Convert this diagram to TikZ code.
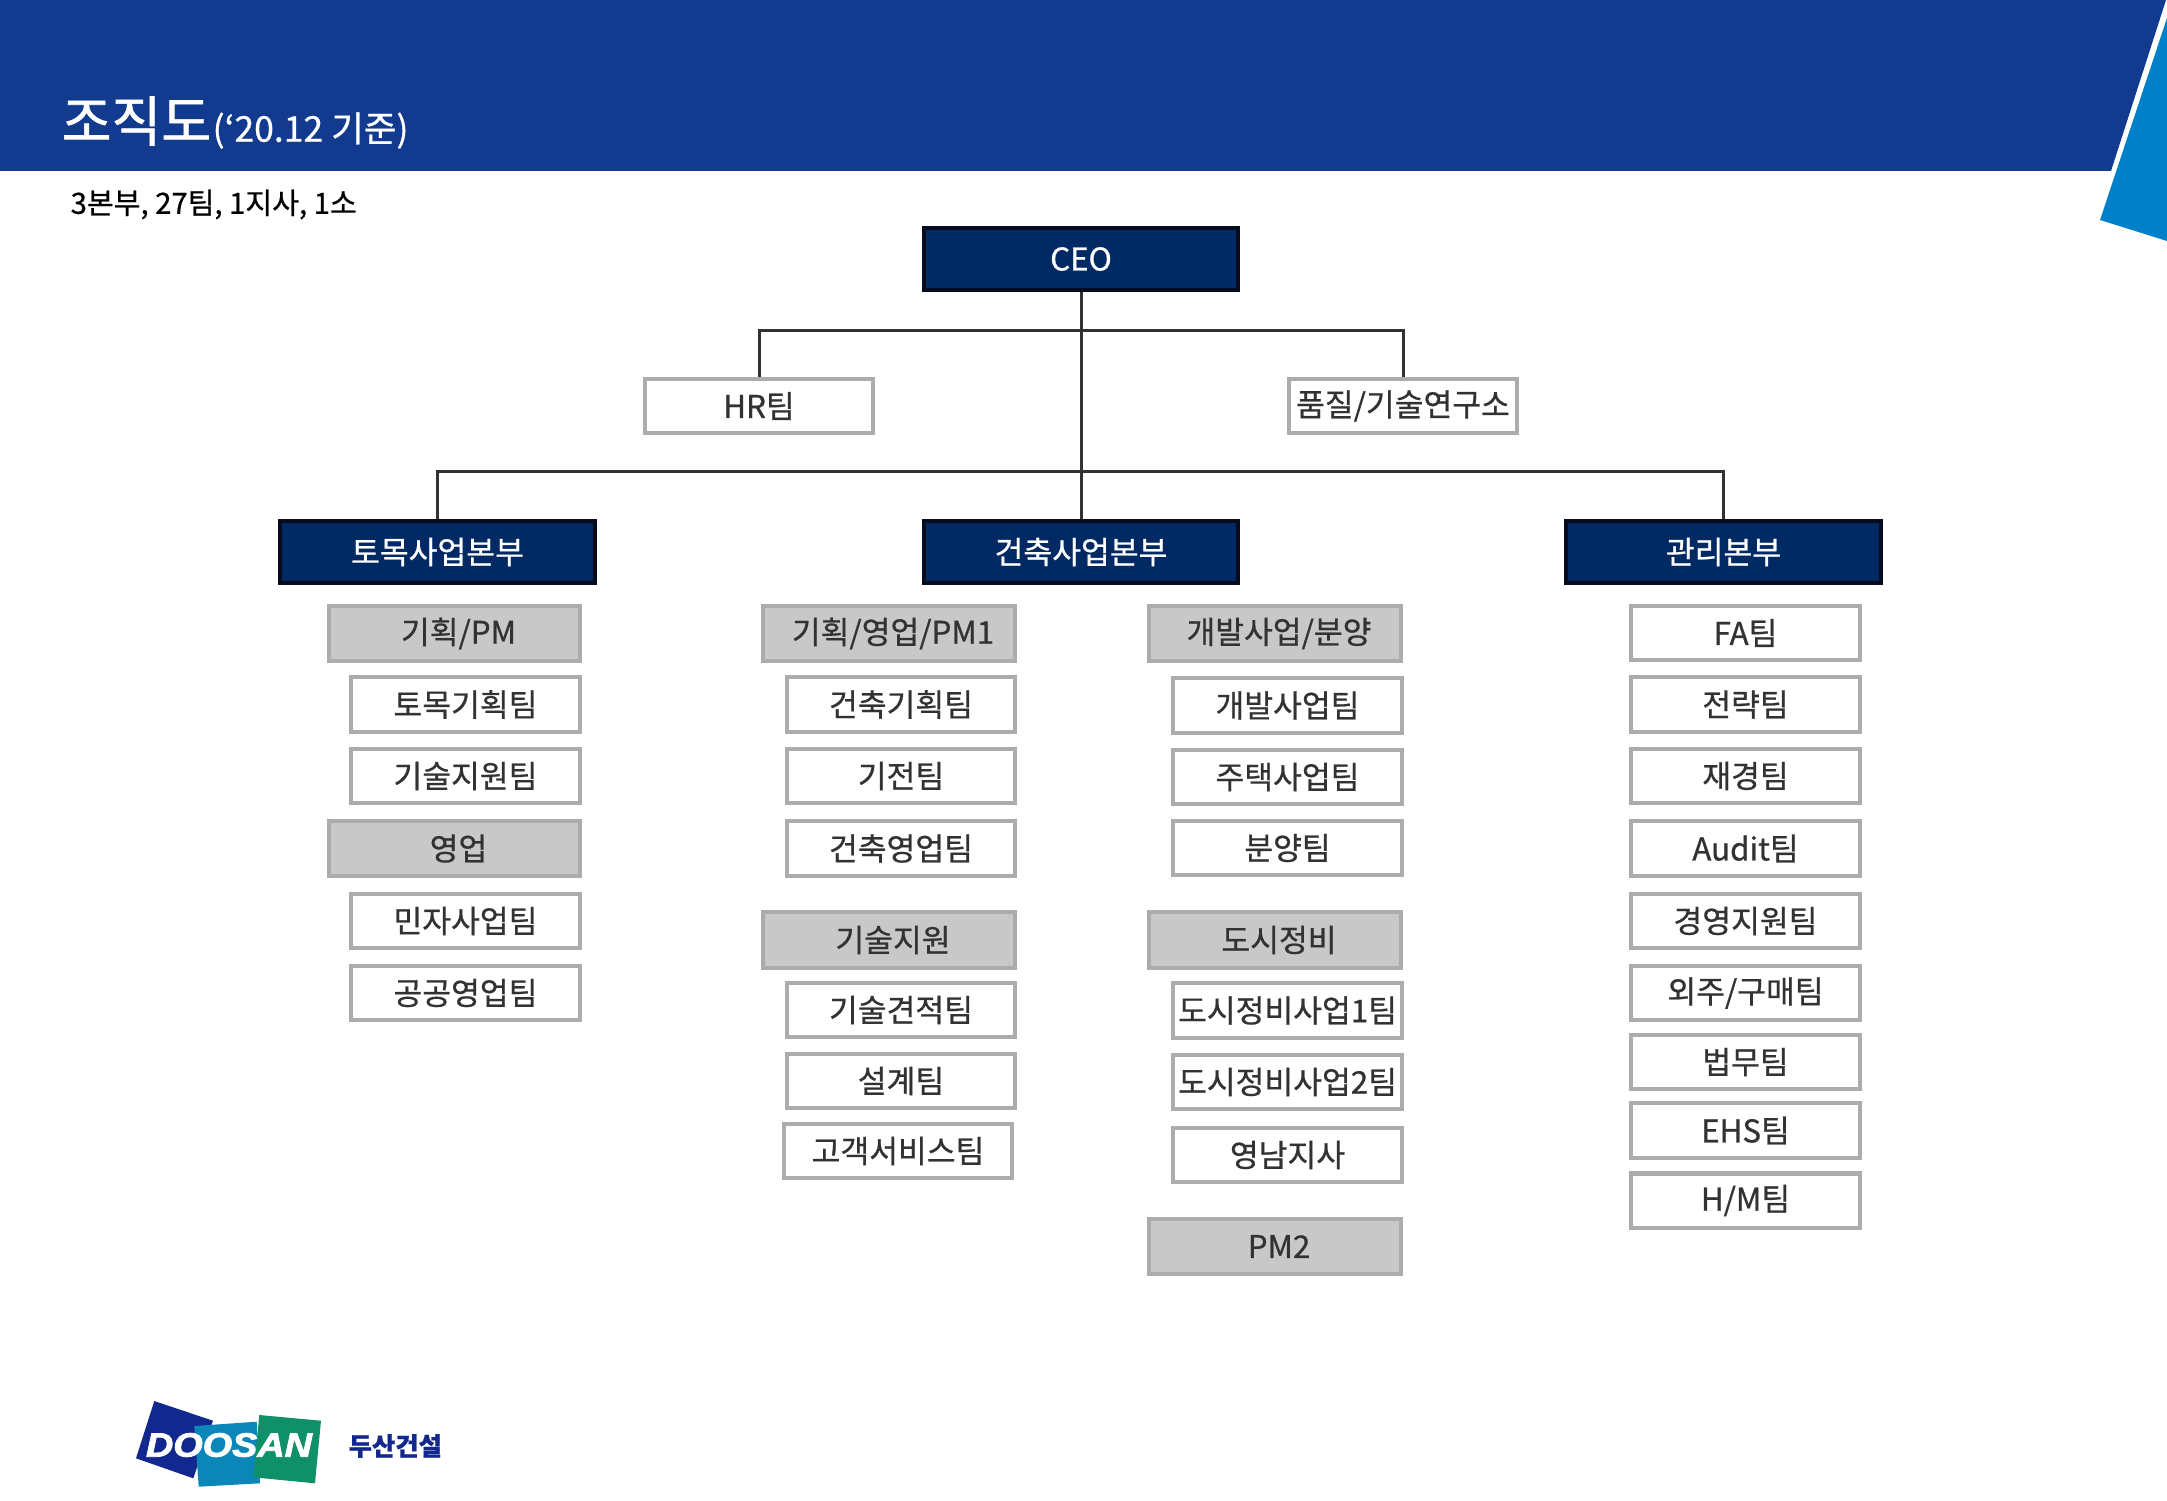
\documentclass[tikz,border=0pt]{standalone}
\usepackage{fontspec}
\setmainfont{Noto Sans CJK KR}[FakeBold=0.7]
\newfontfamily\heavyfont{Noto Sans CJK KR}[FakeBold=1.2]
\newfontfamily\logofont{Liberation Sans}[BoldItalicFeatures={FakeBold=2.2}]
\usepackage{xcolor}
\definecolor{bannerblue}{RGB}{18,58,143}
\definecolor{cornerblue}{RGB}{0,128,200}
\definecolor{headblue}{RGB}{1,42,100}
\definecolor{headedge}{RGB}{8,10,30}
\definecolor{groupgray}{RGB}{200,200,200}
\definecolor{edgegray}{RGB}{172,172,172}
\definecolor{labelgray}{RGB}{50,50,50}
\definecolor{logoblue}{RGB}{18,40,143}
\definecolor{logoteal}{RGB}{10,135,184}
\definecolor{logogreen}{RGB}{15,144,104}
\tikzset{
    common/.style={draw, rectangle, inner sep=0pt, line width=0.04cm, font=\fontsize{8.9}{10}\selectfont},
    head/.style={common, draw=headedge, fill=headblue, text=white, minimum width=3.13cm, minimum height=0.61cm},
    sidehead/.style={head, minimum width=3.15cm},
    group/.style={common, draw=edgegray, fill=groupgray, text=labelgray, minimum width=2.51cm, minimum height=0.55cm, execute at begin node={\hspace{0.08cm}}},
    team/.style={common, draw=edgegray, fill=white, text=labelgray, minimum width=2.29cm, minimum height=0.54cm},
    archteam/.style={team, minimum width=2.27cm},
    staff/.style={team, minimum width=2.28cm, minimum height=0.53cm},
    wire/.style={line width=0.03cm, labelgray}
}
\begin{document}
\begin{tikzpicture}[x=0.01cm, y=-0.01cm]
      \useasboundingbox (0,0) rectangle (2167,1500);

      \fill[bannerblue] (0,0) -- (2166,0) -- (2111,171) -- (0,171) -- cycle;
      \fill[cornerblue] (2167,18) -- (2100,220) -- (2167,241) -- cycle;

      \path
          (61,121) node[anchor=west, inner sep=0pt, text=white, font=\fontsize{15.4}{18}\heavyfont] (title) {조직도}
          (title.east) ++(0,9.5) node[anchor=west, inner sep=0pt, text=white, font=\fontsize{10.1}{12}\selectfont] (title-date) {(‘20.12 기준)}
          (70,204.5) node[anchor=west, inner sep=0pt, text=black, font=\fontsize{8.3}{10}\selectfont] (count) {3본부, 27팀, 1지사, 1소};

      % top of the chart
      \path
          (1081,259) node[head] (ceo) {CEO}
          (759,406) node[staff] (hr) {HR팀}
          (1403,406) node[staff] (quality) {품질/기술연구소}
          (437.5,552) node[sidehead] (civil) {토목사업본부}
          (1081,552) node[head] (arch) {건축사업본부}
          (1723.5,552) node[sidehead] (admin) {관리본부}
          (1081,330) coordinate (bus-staff)
          (1081,471) coordinate (bus-div);

      \draw[wire] (ceo.south) -- (arch.north);
      \draw[wire] (hr.north) |- (bus-staff) -| (quality.north);
      \draw[wire] (civil.north) |- (bus-div) -| (admin.north);

      % civil
      \path
          (454.5,633.5) node[group] (civil-plan) {기획/PM}
          (465.5,704.5) node[team] (civil-plan-team) {토목기획팀}
          (465.5,776) node[team] (civil-tech) {기술지원팀}
          (454.5,848.5) node[group] (civil-sales) {영업}
          (465.5,921) node[team] (civil-private) {민자사업팀}
          (465.5,993) node[team] (civil-public) {공공영업팀};

      % architecture, left column
      \path
          (889,633.5) node[group] (arch-plan) {기획/영업/PM1}
          (901,704.5) node[archteam] (arch-plan-team) {건축기획팀}
          (901,776) node[archteam] (arch-elec) {기전팀}
          (901,848.5) node[archteam] (arch-sales) {건축영업팀}
          (889,940) node[group] (arch-tech) {기술지원}
          (901,1010) node[archteam] (arch-cost) {기술견적팀}
          (901,1081) node[archteam] (arch-design) {설계팀}
          (898,1151) node[archteam] (arch-service) {고객서비스팀};

      % architecture, right column
      \path
          (1275,633.5) node[group] (dev) {개발사업/분양}
          (1287.5,705.5) node[team] (dev-team) {개발사업팀}
          (1287.5,777) node[team] (dev-housing) {주택사업팀}
          (1287.5,848) node[team] (dev-sale) {분양팀}
          (1275,940) node[group] (urban) {도시정비}
          (1287.5,1010.5) node[team] (urban-1) {도시정비사업1팀}
          (1287.5,1082) node[team] (urban-2) {도시정비사업2팀}
          (1287.5,1155) node[team] (urban-south) {영남지사}
          (1275,1246.5) node[group] (pm-2) {PM2};

      % admin
      \path
          (1745.5,633) node[team] (admin-fa) {FA팀}
          (1745.5,704.5) node[team] (admin-strategy) {전략팀}
          (1745.5,776) node[team] (admin-finance) {재경팀}
          (1745.5,848.5) node[team] (admin-audit) {Audit팀}
          (1745.5,921) node[team] (admin-support) {경영지원팀}
          (1745.5,993) node[team] (admin-purchase) {외주/구매팀}
          (1745.5,1062) node[team] (admin-legal) {법무팀}
          (1745.5,1130.5) node[team] (admin-ehs) {EHS팀}
          (1745.5,1200.5) node[team] (admin-hm) {H/M팀};

      % logo
      \fill[logoblue] (154.3,1401) -- (213,1420.7) -- (193.3,1478.3) -- (136,1458.3) -- cycle;
      \fill[logoteal] (194.3,1426) -- (256.7,1421.7) -- (260,1483.3) -- (198.7,1486.7) -- cycle;
      \fill[logogreen] (259.3,1415) -- (321,1420.7) -- (315,1483.3) -- (253.3,1477.3) -- cycle;
      \path
          (229,1445) node[inner sep=0pt, text=white, xscale=1.12, font=\fontsize{9.6}{11}\logofont\bfseries\itshape] (logo) {DOOSAN}
          (348,1446) node[anchor=west, inner sep=0pt, text=logoblue, font=\fontsize{7.2}{9}\selectfont\bfseries] (company) {두산건설};
    \end{tikzpicture}
\end{document}
